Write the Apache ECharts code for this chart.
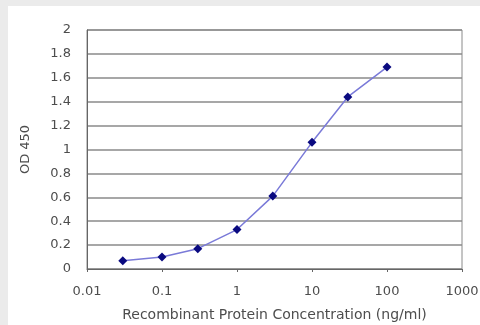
<!DOCTYPE html>
<html>
<head>
<meta charset="utf-8">
<script src="https://cdn.jsdelivr.net/npm/echarts@6/dist/echarts.min.js"></script>
<style>
html,body{margin:0;padding:0;background:#ebebeb;width:480px;height:325px;overflow:hidden;}
#chart{position:absolute;left:8px;top:6px;width:472px;height:319px;background:#ffffff;}
</style>
</head>
<body>
<div id="chart"></div>
<script>
const concentrations = [0.03, 0.1, 0.3, 1, 3, 10, 30, 100];
const odValues = [0.07, 0.10, 0.17, 0.33, 0.61, 1.06, 1.44, 1.69];
const xTitle = 'Recombinant Protein Concentration (ng/ml)';
const yTitle = 'OD 450';

const chart = echarts.init(document.getElementById('chart'), null, {renderer: 'canvas'});
const font = 'DejaVu Sans, sans-serif';
const txt = '#4d4d4d';
chart.setOption({
  animation: false,
  grid: {left: 79, top: 24, right: 18, bottom: 56, containLabel: false, outerBoundsMode: 'none',
    show: true, borderColor: '#8a8a8a', borderWidth: 1, backgroundColor: 'transparent'},
  xAxis: {
    type: 'log', logBase: 10, min: 0.01, max: 1000,
    name: xTitle, nameLocation: 'middle', nameGap: 39,
    nameTextStyle: {fontFamily: font, fontSize: 14, color: txt},
    axisLine: {lineStyle: {color: '#666', width: 1}},
    axisTick: {show: true, length: 3, lineStyle: {color: '#666'}},
    axisLabel: {fontFamily: font, fontSize: 13, color: txt, margin: 16,
      formatter: v => String(Number(v.toPrecision(6)))},
    splitLine: {show: false},
    minorTick: {show: false}
  },
  yAxis: {
    type: 'value', min: 0, max: 2, interval: 0.2,
    name: yTitle, nameLocation: 'middle', nameGap: 55, nameRotate: 90,
    nameTextStyle: {fontFamily: font, fontSize: 13, color: txt},
    axisLine: {show: true, lineStyle: {color: '#666', width: 1}},
    axisTick: {show: false},
    axisLabel: {fontFamily: font, fontSize: 13, color: txt, margin: 16,
      formatter: v => String(Number(v.toFixed(1)))},
    splitLine: {show: true, lineStyle: {color: '#8a8a8a', width: 1.5}}
  },
  series: [{
    type: 'line',
    data: concentrations.map((c, i) => [c, odValues[i]]),
    symbol: 'diamond', symbolSize: 9,
    itemStyle: {color: '#0a0a80'},
    lineStyle: {color: '#7a7ad8', width: 1.5},
    z: 5
  }]
});
</script>
</body>
</html>
